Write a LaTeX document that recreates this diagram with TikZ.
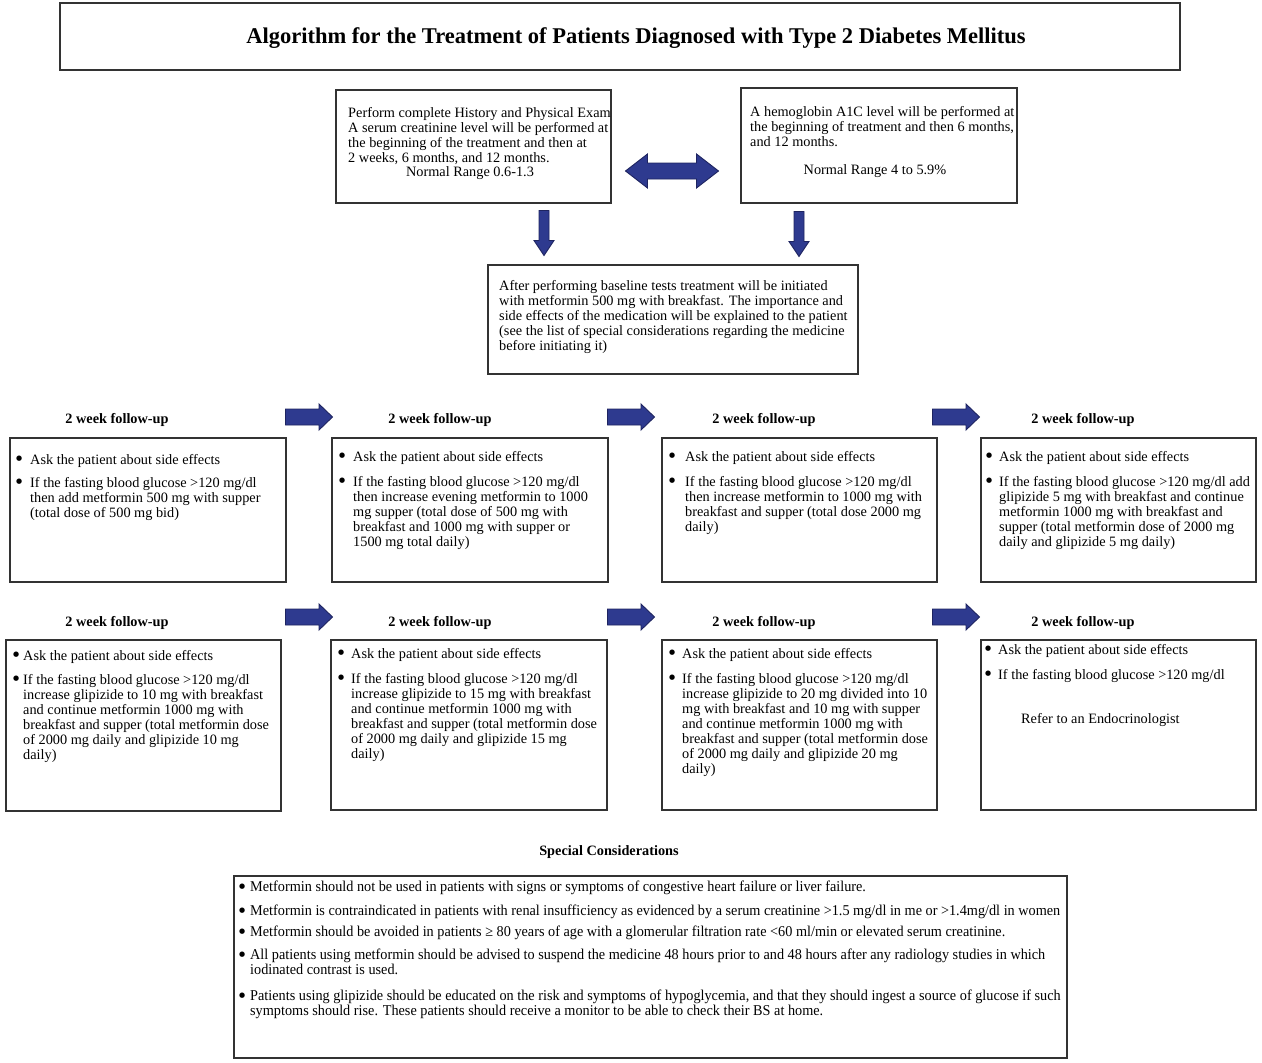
\documentclass[tikz,border=0pt]{standalone}
\usepackage{fontspec}
\setmainfont{Liberation Serif}
\newfontfamily\condfont[FakeStretch=0.95]{Liberation Serif}
\newfontfamily\symfont{DejaVu Sans}
\definecolor{navy}{HTML}{2E3A8F}
\definecolor{navyedge}{HTML}{1E2460}
\definecolor{frame}{HTML}{333333}
\newcommand{\bul}[1]{\makebox[#1][l]{\raisebox{3.4pt}{\symfont\fontsize{7}{7}\selectfont ●}}}
\newcommand{\ind}[1]{\hspace*{#1}}
\tikzset{
  box/.style={draw=frame, line width=1.8pt, fill=white},
  txt/.style={anchor=north west, inner sep=0pt, align=left, font=\fontsize{14.3}{15}\selectfont},
  ctxt/.style={anchor=center, inner sep=0pt, font=\fontsize{14.3}{15}\selectfont},
  hdr/.style={font=\bfseries\fontsize{14.3}{16}\selectfont, inner sep=0pt},
  blk/.style={draw=navyedge, fill=navy, line width=0.9pt, line join=miter},
  rblk/.pic={\draw[blk] (-23.5,-8) -- (10,-8) -- (10,-13) -- (23.5,0) -- (10,13) -- (10,8) -- (-23.5,8) -- cycle;},
  dblk/.pic={\draw[blk] (-5,-22.5) -- (5,-22.5) -- (5,7.5) -- (10,7.5) -- (0,22.5) -- (-10,7.5) -- (-5,7.5) -- cycle;},
  dblblk/.pic={\draw[blk] (-46.5,0) -- (-24.5,-17) -- (-24.5,-8) -- (24.5,-8) -- (24.5,-17) -- (46.5,0)
     -- (24.5,17) -- (24.5,8) -- (-24.5,8) -- (-24.5,17) -- cycle;},
}
\begin{document}
\begin{tikzpicture}[x=1pt,y=-1pt]
\useasboundingbox (0,0) rectangle (1262,1063);
% title
\draw[box] (60,3) rectangle (1180,70);
\node[font=\bfseries\fontsize{22.5}{25}\selectfont, inner sep=0pt] (title) at (636,38)
  {Algorithm for the Treatment of Patients Diagnosed with Type 2 Diabetes Mellitus};

% top boxes
\draw[box] (336,90) rectangle (611,203);
\node[txt] (hist) at (348,107) {Perform complete History and Physical Exam\\
A serum creatinine level will be performed at\\
the beginning of the treatment and then at\\
2 weeks, 6 months, and 12 months.};
\node[ctxt] (histnr) at (470,173) {Normal Range 0.6-1.3};

\draw[box] (741,88) rectangle (1017,203);
\node[txt] (a1c) at (750,106) {A hemoglobin A1C level will be performed at\\
the beginning of treatment and then 6 months,\\
and 12 months.};
\node[ctxt] (a1cnr) at (875,171) {Normal Range 4 to 5.9\%};

\pic (dbl) at (672,171) {dblblk};
\pic (d1) at (544,233) {dblk};
\pic (d2) at (799,234) {dblk};

% initiation box
\draw[box] (488,265) rectangle (858,374);
\node[txt] (init) at (499,280) {After performing baseline tests treatment will be initiated\\
with metformin 500 mg with breakfast. The importance and\\
side effects of the medication will be explained to the patient\\
(see the list of special considerations regarding the medicine\\
before initiating it)};

% headers and arrows
\foreach \x/\n in {117/a,440/b,764/c,1083/d}{
  \node[hdr] (h1\n) at (\x,420) {2 week follow-up};
  \node[hdr] (h2\n) at (\x,623) {2 week follow-up};
}
\foreach \x/\n in {309/a,631/b,956/c}{
  \pic (r1\n) at (\x,417) {rblk};
  \pic (r2\n) at (\x,617) {rblk};
}

% row 1 boxes
\draw[box] (10,438) rectangle (286,582);
\node[txt] (b1a) at (16,454) {\bul{14pt}Ask the patient about side effects\\[8pt]
\bul{14pt}If the fasting blood glucose >120 mg/dl\\
\ind{14pt}then add metformin 500 mg with supper\\
\ind{14pt}(total dose of 500 mg bid)};

\draw[box] (332,438) rectangle (608,582);
\node[txt] (b1b) at (339,451) {\bul{14pt}Ask the patient about side effects\\[10pt]
\bul{14pt}If the fasting blood glucose >120 mg/dl\\
\ind{14pt}then increase evening metformin to 1000\\
\ind{14pt}mg supper (total dose of 500 mg with\\
\ind{14pt}breakfast and 1000 mg with supper or\\
\ind{14pt}1500 mg total daily)};

\draw[box] (662,438) rectangle (937,582);
\node[txt] (b1c) at (669,451) {\bul{16pt}Ask the patient about side effects\\[10pt]
\bul{16pt}If the fasting blood glucose >120 mg/dl\\
\ind{16pt}then increase metformin to 1000 mg with\\
\ind{16pt}breakfast and supper (total dose 2000 mg\\
\ind{16pt}daily)};

\draw[box] (981,438) rectangle (1256,582);
\node[txt] (b1d) at (986,451) {\bul{13pt}Ask the patient about side effects\\[10pt]
\bul{13pt}If the fasting blood glucose >120 mg/dl add\\
\ind{13pt}glipizide 5 mg with breakfast and continue\\
\ind{13pt}metformin 1000 mg with breakfast and\\
\ind{13pt}supper (total metformin dose of 2000 mg\\
\ind{13pt}daily and glipizide 5 mg daily)};

% row 2 boxes
\draw[box] (6,640) rectangle (281,811);
\node[txt] (b2a) at (13,650) {\bul{10pt}Ask the patient about side effects\\[9pt]
\bul{10pt}If the fasting blood glucose >120 mg/dl\\
\ind{10pt}increase glipizide to 10 mg with breakfast\\
\ind{10pt}and continue metformin 1000 mg with\\
\ind{10pt}breakfast and supper (total metformin dose\\
\ind{10pt}of 2000 mg daily and glipizide 10 mg\\
\ind{10pt}daily)};

\draw[box] (331,640) rectangle (607,810);
\node[txt] (b2b) at (338,648) {\bul{13pt}Ask the patient about side effects\\[10pt]
\bul{13pt}If the fasting blood glucose >120 mg/dl\\
\ind{13pt}increase glipizide to 15 mg with breakfast\\
\ind{13pt}and continue metformin 1000 mg with\\
\ind{13pt}breakfast and supper (total metformin dose\\
\ind{13pt}of 2000 mg daily and glipizide 15 mg\\
\ind{13pt}daily)};

\draw[box] (662,640) rectangle (937,810);
\node[txt] (b2c) at (669,648) {\bul{13pt}Ask the patient about side effects\\[10pt]
\bul{13pt}If the fasting blood glucose >120 mg/dl\\
\ind{13pt}increase glipizide to 20 mg divided into 10\\
\ind{13pt}mg with breakfast and 10 mg with supper\\
\ind{13pt}and continue metformin 1000 mg with\\
\ind{13pt}breakfast and supper (total metformin dose\\
\ind{13pt}of 2000 mg daily and glipizide 20 mg\\
\ind{13pt}daily)};

\draw[box] (981,640) rectangle (1256,810);
\node[txt] (b2d) at (985,644) {\bul{13pt}Ask the patient about side effects\\[10pt]
\bul{13pt}If the fasting blood glucose >120 mg/dl};
\node[txt] (refer) at (1021,713) {Refer to an Endocrinologist};

% special considerations
\node[hdr] (sch) at (609,852) {Special Considerations};
\draw[box] (234,876) rectangle (1067,1058);
\node[txt, font=\condfont\fontsize{15}{15}\selectfont] (spec) at (239,881) {%
\bul{11pt}Metformin should not be used in patients with signs or symptoms of congestive heart failure or liver failure.\\[9pt]
\bul{11pt}Metformin is contraindicated in patients with renal insufficiency as evidenced by a serum creatinine >1.5 mg/dl in me or >1.4mg/dl in women\\[6pt]
\bul{11pt}Metformin should be avoided in patients ≥ 80 years of age with a glomerular filtration rate <60 ml/min or elevated serum creatinine.\\[8pt]
\bul{11pt}All patients using metformin should be advised to suspend the medicine 48 hours prior to and 48 hours after any radiology studies in which\\
\ind{11pt}iodinated contrast is used.\\[11pt]
\bul{11pt}Patients using glipizide should be educated on the risk and symptoms of hypoglycemia, and that they should ingest a source of glucose if such\\
\ind{11pt}symptoms should rise. These patients should receive a monitor to be able to check their BS at home.};
\end{tikzpicture}
\end{document}
